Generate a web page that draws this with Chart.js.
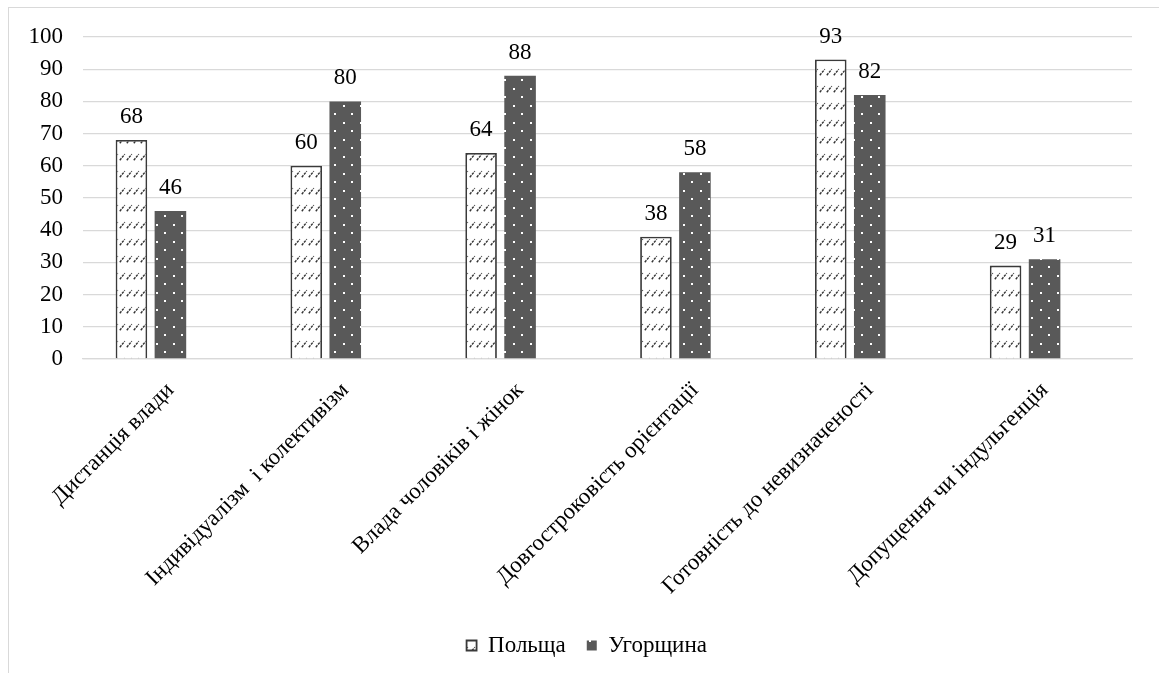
<!DOCTYPE html>
<html>
<head>
<meta charset="utf-8">
<script src="https://cdn.jsdelivr.net/npm/chart.js@4/dist/chart.umd.min.js"></script>
<style>
  html, body { margin: 0; padding: 0; background: #fff; }
  #wrap { position: relative; width: 1159px; height: 673px; overflow: hidden; }
  #frame { position: absolute; left: 8px; top: 7px; width: 1200px; height: 700px;
           border: 1px solid #d9d9d9; pointer-events: none; }
  canvas { position: absolute; left: 0; top: 0; }
</style>
</head>
<body>
<div id="wrap">
  <canvas id="c" width="1159" height="673"></canvas>
  <div id="frame"></div>
</div>
<script>
// Hofstede dimensions: Poland vs Hungary
const categories = [
  'Дистанція влади',
  'Індивідуалізм  і колективізм',
  'Влада чоловіків і жінок',
  'Довгостроковість орієнтації',
  'Готовність до невизначеності',
  'Допущення чи індульгенція'
];
const poland  = [68, 60, 64, 38, 93, 29];
const hungary = [46, 80, 88, 58, 82, 31];
// empty third series keeps the bar slots of the original workbook layout
const emptySeries = [null, null, null, null, null, null];
const seriesNames = ['Польща', 'Угорщина'];
const yMin = 0, yMax = 100, yStep = 10;

const FONT = '"Liberation Serif", "Times New Roman", serif';
const canvas = document.getElementById('c');
const ctx = canvas.getContext('2d');

// white fill with short dashed upward diagonals
function hatchPattern() {
  const w = 7, h = 17;
  const c = document.createElement('canvas');
  c.width = w; c.height = h;
  const g = c.getContext('2d');
  g.fillStyle = '#ffffff';
  g.fillRect(0, 0, w, h);
  g.strokeStyle = '#333333';
  g.lineWidth = 1.4;
  g.setLineDash([2.5, 1]);
  g.beginPath();
  g.moveTo(0.8, 7.2);
  g.lineTo(5.8, 1.2);
  g.stroke();
  return ctx.createPattern(c, 'repeat');
}

// dark grey fill with a staggered grid of white dots
function dotPattern() {
  const s = 17;
  const c = document.createElement('canvas');
  c.width = s; c.height = s;
  const g = c.getContext('2d');
  g.fillStyle = '#595959';
  g.fillRect(0, 0, s, s);
  g.fillStyle = '#ffffff';
  g.fillRect(3, 3, 2, 2);
  g.fillRect(11, 11, 2, 2);
  return ctx.createPattern(c, 'repeat');
}

// value text above each bar
const valueLabels = {
  id: 'valueLabels',
  afterDatasetsDraw(chart) {
    const c = chart.ctx;
    c.save();
    c.font = '23px ' + FONT;
    c.fillStyle = '#000';
    c.textAlign = 'center';
    c.textBaseline = 'alphabetic';
    chart.data.datasets.forEach((ds, i) => {
      const meta = chart.getDatasetMeta(i);
      if (meta.hidden) return;
      meta.data.forEach((bar, j) => {
        const v = ds.data[j];
        if (v == null) return;
        c.fillText(String(v), bar.x, bar.y - 17);
      });
    });
    c.restore();
  }
};

// legend sits a little right of the canvas centre
const legendShift = {
  id: 'legendShift',
  afterLayout(chart) {
    const l = chart.legend;
    if (!l) return;
    l.left += 42;
    l.right += 42;
  }
};

new Chart(ctx, {
  type: 'bar',
  data: {
    labels: categories,
    datasets: [
      {
        label: seriesNames[0],
        data: poland,
        backgroundColor: hatchPattern(),
        borderColor: '#3a3a3a',
        borderWidth: 1.8,
        borderSkipped: 'bottom'
      },
      {
        label: seriesNames[1],
        data: hungary,
        backgroundColor: dotPattern(),
        borderColor: '#595959',
        borderWidth: 0
      },
      {
        label: '',
        data: emptySeries,
        backgroundColor: 'rgba(0,0,0,0)',
        borderWidth: 0
      }
    ]
  },
  options: {
    responsive: false,
    animation: false,
    devicePixelRatio: 1,
    layout: { padding: { left: 0, right: 27, top: 37, bottom: 6 } },
    datasets: {
      bar: { categoryPercentage: 0.669, barPercentage: 0.81 }
    },
    plugins: {
      legend: {
        position: 'bottom',
        filter: item => item.datasetIndex < 2,
        labels: {
          boxWidth: 10,
          boxHeight: 10,
          padding: 21,
          color: '#000',
          font: { family: FONT, size: 23 }
        }
      },
      tooltip: { enabled: false }
    },
    scales: {
      x: {
        grid: { display: false, drawTicks: false },
        border: { display: true, color: '#d9d9d9', width: 1.3 },
        ticks: {
          color: '#000',
          font: { family: FONT, size: 23 },
          maxRotation: 45,
          minRotation: 45,
          padding: 18,
          autoSkip: false
        },
        afterFit: scale => { scale.height = 254; }
      },
      y: {
        min: yMin,
        max: yMax,
        grid: { color: '#d9d9d9', lineWidth: 1.3, drawTicks: false },
        border: { display: false },
        ticks: {
          stepSize: yStep,
          color: '#000',
          padding: 20,
          font: { family: FONT, size: 23 }
        },
        afterFit: scale => { scale.width = 83; }
      }
    }
  },
  plugins: [valueLabels, legendShift]
});
</script>
</body>
</html>
